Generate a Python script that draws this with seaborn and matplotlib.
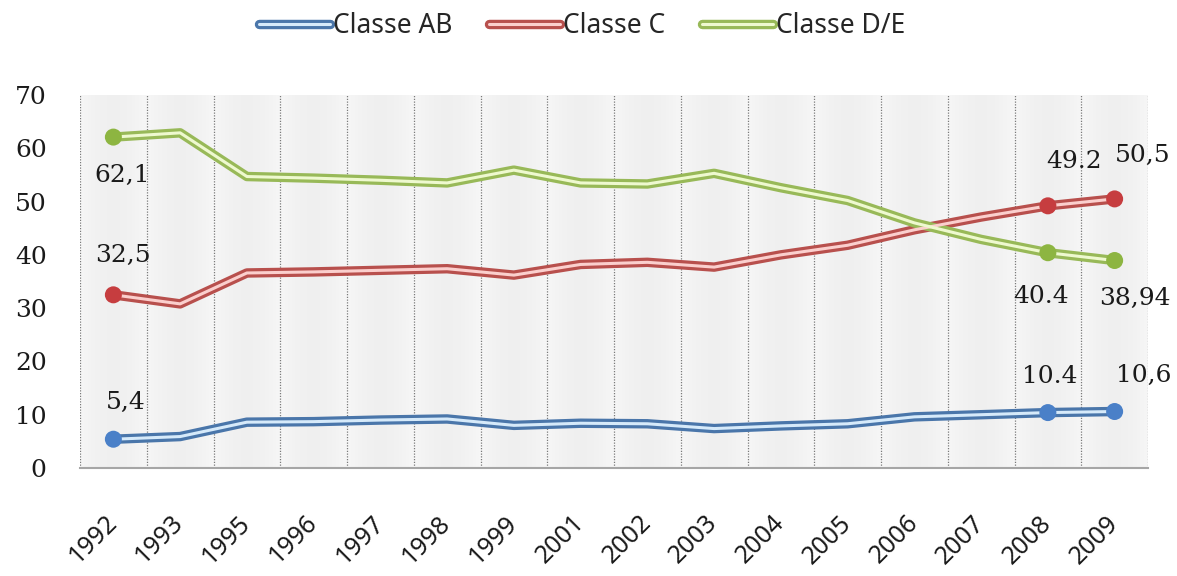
import numpy as np
import pandas as pd
import matplotlib
matplotlib.use("Agg")
import matplotlib.pyplot as plt
from matplotlib.lines import Line2D
from matplotlib.legend_handler import HandlerTuple
import seaborn as sns

# --- data -------------------------------------------------------------
years = ["1992", "1993", "1995", "1996", "1997", "1998", "1999", "2001",
         "2002", "2003", "2004", "2005", "2006", "2007", "2008", "2009"]
classe_ab = [5.4, 5.9, 8.6, 8.7, 9.0, 9.2, 8.0, 8.4, 8.3, 7.4, 7.9, 8.3,
             9.6, 10.0, 10.4, 10.6]
classe_c = [32.5, 30.8, 36.6, 36.8, 37.1, 37.4, 36.2, 38.2, 38.6, 37.7,
            40.0, 41.8, 44.7, 47.1, 49.2, 50.5]
classe_de = [62.1, 62.9, 54.7, 54.4, 54.0, 53.5, 55.9, 53.5, 53.3, 55.3,
             52.6, 50.2, 46.0, 42.9, 40.4, 38.94]
series_names = ["Classe AB", "Classe C", "Classe D/E"]
y_ticks = [0, 10, 20, 30, 40, 50, 60, 70]

# labelled points: (series, year, text)
point_labels = [
    ("Classe D/E", "1992", "62,1"),
    ("Classe C", "1992", "32,5"),
    ("Classe AB", "1992", "5,4"),
    ("Classe C", "2008", "49.2"),
    ("Classe C", "2009", "50,5"),
    ("Classe D/E", "2008", "40.4"),
    ("Classe D/E", "2009", "38,94"),
    ("Classe AB", "2008", "10.4"),
    ("Classe AB", "2009", "10,6"),
]
marker_years = ["1992", "2008", "2009"]

df = pd.DataFrame({
    "ano": years * 3,
    "valor": classe_ab + classe_c + classe_de,
    "classe": [n for n in series_names for _ in years],
})

# --- styling ----------------------------------------------------------
sns.set_style("white")
plt.rcParams["font.family"] = ["DejaVu Serif"]

outer = {"Classe AB": "#4a76aa", "Classe C": "#b8504d", "Classe D/E": "#98b958"}
inner = {"Classe AB": "#d6eafa", "Classe C": "#fbcfcd", "Classe D/E": "#eef9cf"}
dots = {"Classe AB": "#4a80c8", "Classe C": "#c63d3f", "Classe D/E": "#8db541"}

fig = plt.figure(figsize=(11.77, 5.76), dpi=100)
ax = fig.add_axes([80 / 1177, 1 - 468 / 576, (1148 - 80) / 1177, (468 - 95) / 576])

# banded plot-area background
n = len(years)
per = 40
t = np.linspace(0, 1, per)
shade = 0.965 - 0.025 * np.sin(np.pi * t)
row = np.tile(shade, n)
bg = np.dstack([row, row, row])
ax.imshow(bg, extent=(-0.5, n - 0.5, 0, 70), aspect="auto",
          interpolation="bilinear", zorder=0)

# double-stroke lines: dark outer stroke + light inner stroke
sns.lineplot(data=df, x="ano", y="valor", hue="classe", palette=outer,
             linewidth=6.8, ax=ax, legend=False, zorder=3,
             solid_capstyle="round", solid_joinstyle="round")
sns.lineplot(data=df, x="ano", y="valor", hue="classe", palette=inner,
             linewidth=2.2, ax=ax, legend=False, zorder=4,
             solid_capstyle="round", solid_joinstyle="round")

mk = df[df["ano"].isin(marker_years)]
sns.scatterplot(data=mk, x="ano", y="valor", hue="classe", palette=dots,
                s=150, edgecolor="none", ax=ax, legend=False, zorder=5)

# data labels, offsets in pixels
offsets = {
    ("Classe D/E", "1992"): (9, -38),
    ("Classe C", "1992"): (10, 39),
    ("Classe AB", "1992"): (12, 37),
    ("Classe C", "2008"): (26, 44),
    ("Classe C", "2009"): (28, 43),
    ("Classe D/E", "2008"): (-7, -44),
    ("Classe D/E", "2009"): (20, -38),
    ("Classe AB", "2008"): (2, 36),
    ("Classe AB", "2009"): (29, 36),
}
for serie, ano, txt in point_labels:
    val = df[(df["classe"] == serie) & (df["ano"] == ano)]["valor"].iloc[0]
    dx, dy = offsets[(serie, ano)]
    ax.annotate(txt, xy=(years.index(ano), val), xytext=(dx, dy),
                textcoords="offset pixels", ha="center", va="center",
                fontsize=18, color="#1a1a1a", zorder=6)

# axes
ax.set_xlim(-0.5, n - 0.5)
ax.set_ylim(0, 70)
ax.set_yticks(y_ticks)
ax.set_yticklabels([str(v) for v in y_ticks], fontsize=18, color="#1a1a1a")
ax.set_xlabel("")
ax.set_ylabel("")
ax.set_xticks(np.arange(-0.5, n, 1), minor=True)
ax.grid(which="minor", axis="x", color="#7a7a7a", linestyle=(0, (1, 1.2)),
        linewidth=0.9, zorder=1)
ax.grid(which="major", visible=False)
ax.set_axisbelow(True)
ax.tick_params(axis="y", length=0, pad=24)
ax.tick_params(axis="x", which="both", length=0, pad=37)
for lab in ax.get_xticklabels():
    lab.set_rotation(45)
    lab.set_rotation_mode("anchor")
    lab.set_ha("right")
    lab.set_va("center")
    lab.set_fontfamily(["Noto Sans", "DejaVu Sans"])
    lab.set_fontsize(18)
    lab.set_color("#1a1a1a")

for side in ["top", "right", "left"]:
    ax.spines[side].set_visible(False)
ax.spines["bottom"].set_color("#a6a6a6")
ax.spines["bottom"].set_linewidth(1.5)

# legend with double-stroke handles
handles = [
    (Line2D([], [], color=outer[s], linewidth=6.8, solid_capstyle="round"),
     Line2D([], [], color=inner[s], linewidth=2.2, solid_capstyle="round"))
    for s in series_names
]
fig.legend(handles, series_names, handler_map={tuple: HandlerTuple(ndivide=1)},
           loc="center", bbox_to_anchor=(582 / 1177, 1 - 26 / 576), ncol=3,
           frameon=False, handlelength=2.7, handletextpad=0.1,
           columnspacing=1.4, prop={"family": ["Noto Sans", "DejaVu Sans"], "size": 19})

fig.savefig("out.png", dpi=100, facecolor="white")
